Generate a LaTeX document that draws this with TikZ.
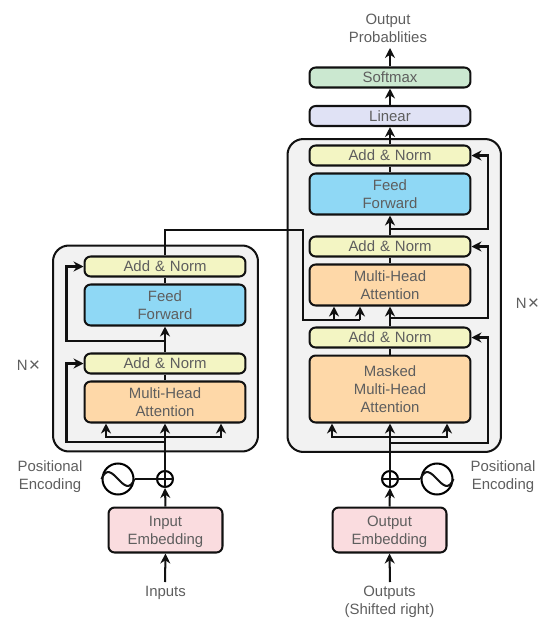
\documentclass[tikz,border=0pt]{standalone}
\usepackage{fontspec}
\setmainfont{Liberation Sans}
\usepackage{xcolor}
\usetikzlibrary{arrows.meta,positioning}
\definecolor{normfill}{HTML}{F3F5C3}
\definecolor{ffill}{HTML}{8FD8F5}
\definecolor{attnfill}{HTML}{FED8A8}
\definecolor{embfill}{HTML}{FADCDF}
\definecolor{linfill}{HTML}{E0E2F5}
\definecolor{softfill}{HTML}{CBE8D0}
\definecolor{stackfill}{HTML}{F2F2F2}
\definecolor{inktext}{HTML}{5E5E5E}
\definecolor{inkline}{HTML}{111111}
\newcommand{\stackcount}{N\kern0.6pt\raisebox{-0.7pt}{\fontsize{11}{11}\selectfont ×}}

\begin{document}
\begin{tikzpicture}[
  x=0.02cm,y=-0.02cm,
  box/.style={draw=inkline,rounded corners=3.5pt,line width=1.15pt,inner sep=0pt,
              text=inktext,align=center,font=\fontsize{8.5}{10.2}\selectfont,text width=3.0cm},
  norm/.style={box,fill=normfill,minimum width=3.22cm,minimum height=0.40cm},
  feed/.style={box,fill=ffill,minimum width=3.22cm,minimum height=0.82cm},
  attn/.style={box,fill=attnfill,minimum width=3.22cm,minimum height=0.82cm},
  embed/.style={box,fill=embfill,text width=2.1cm,minimum width=2.28cm,minimum height=0.90cm,
                execute at begin node={\rule{0pt}{8.4pt}}},
  stack/.style={draw=inkline,fill=stackfill,rounded corners=9pt,line width=1.15pt},
  sumnode/.style={circle,draw=black,fill=white,line width=1.15pt,minimum size=0.32cm,inner sep=0pt},
  wave/.style={circle,draw=black,fill=white,line width=1.15pt,minimum size=0.62cm,inner sep=0pt},
  lbl/.style={text=inktext,align=center,font=\fontsize{8.5}{10.2}\selectfont},
  wire/.style={draw=inkline,line width=1.15pt},
  >={Stealth[length=0.2cm,width=0.2cm]}]

\useasboundingbox (0,0) rectangle (550,629);

% stacks
\node[stack,minimum width=4.1cm,minimum height=4.12cm] (encbg) at (155.5,348.5) {};
\node[stack,minimum width=4.27cm,minimum height=6.26cm] (decbg) at (394.25,295.5) {};

% encoder
\node[norm]  (enorm2) at (165,266.5) {Add \& Norm};
\node[feed]  (eff)    at (165,305)   {Feed\\Forward};
\node[norm]  (enorm1) at (165,363.5) {Add \& Norm};
\node[attn]  (eattn)  at (165,402)   {Multi-Head\\Attention};
\node[embed] (eemb)   at (165.5,530) {Input\\Embedding};
\node[sumnode] (eplus) at (165,479) {};
\node[wave]    (ewave) at (118,479) {};
\node[lbl] (inputs) at (165.5,593) {Inputs};
\node[lbl] (epos)   at (50,477)    {Positional\\Encoding};
\node[lbl] (enx)    at (28.5,366)  {\stackcount};

% decoder
\node[norm]  (dnorm3) at (390,155.5) {Add \& Norm};
\node[feed]  (dff)    at (390,194)   {Feed\\Forward};
\node[norm]  (dnorm2) at (390,246.5) {Add \& Norm};
\node[attn]  (dattn)  at (390,285)   {Multi-Head\\Attention};
\node[norm]  (dnorm1) at (390,337.5) {Add \& Norm};
\node[attn,minimum height=1.34cm] (dmask) at (390,389) {Masked\\Multi-Head\\Attention};
\node[embed] (demb)   at (389.5,530) {Output\\Embedding};
\node[sumnode] (dplus) at (390,479) {};
\node[wave]    (dwave) at (437,479) {};
\node[lbl] (outputs) at (389.5,602) {Outputs\\(Shifted right)};
\node[lbl] (dpos)    at (503,477)   {Positional\\Encoding};
\node[lbl] (dnx)     at (527.5,304) {\stackcount};

% top of decoder
\node[box,fill=linfill,minimum width=3.22cm,minimum height=0.40cm]  (linear)  at (390,116) {Linear};
\node[box,fill=softfill,minimum width=3.22cm,minimum height=0.40cm] (softmax) at (390,77.5) {Softmax};
\node[lbl] (probs) at (388,28) {Output\\Probablities};

% free ends
\coordinate (inS)  at (165,582);
\coordinate (outS) at (390,582);
\coordinate (probE) at (390,48);
\coordinate (eskipA) at (165,442);
\coordinate (eskipB) at (66.5,442);
\coordinate (ebrL) at (106,437);
\coordinate (ebrR) at (221,437);
\coordinate (ebrM) at (165,437);
\coordinate (eskipC) at (165,341);
\coordinate (eskipD) at (66.5,341);
\coordinate (crossA) at (165,230);
\coordinate (crossB) at (303,230);
\coordinate (crossC) at (303,320);
\coordinate (crossL) at (334,320);
\coordinate (crossR) at (360,320);
\coordinate (dskipA) at (390,443);
\coordinate (dskipB) at (488,443);
\coordinate (dbrL) at (332,437);
\coordinate (dbrR) at (447,437);
\coordinate (dbrM) at (390,437);
\coordinate (dskipC) at (390,318);
\coordinate (dskipD) at (488,318);
\coordinate (dskipE) at (390,229);
\coordinate (dskipF) at (488,229);

% encoder wires
\draw[wire,->] (inS) -- (eemb.south);
\draw[wire,->] (eemb.north) -- (eplus.south);
\draw[wire] (ewave.east) -- (eplus.west);
\draw[wire] (eplus.north) -- (eplus.south) (eplus.west) -- (eplus.east);
\draw[wire] (ewave.west) .. controls +(10,-24) and +(-10,24) .. (ewave.east);
\draw[wire,->] (eplus.north) -- (eattn.south);
\draw[wire,->] (ebrM) -- (ebrL) -- (ebrL |- eattn.south);
\draw[wire,->] (ebrM) -- (ebrR) -- (ebrR |- eattn.south);
\draw[wire,->] (eskipA) -- (eskipB) |- (enorm1.west);
\draw[wire] (eattn.north) -- (enorm1.south);
\draw[wire,->] (enorm1.north) -- (eff.south);
\draw[wire,->] (eskipC) -- (eskipD) |- (enorm2.west);
\draw[wire] (eff.north) -- (enorm2.south);
\draw[wire] (enorm2.north) -- (crossA) -- (crossB) -- (crossC) -- (crossR);
\draw[wire,->] (crossL) -- (crossL |- dattn.south);
\draw[wire,->] (crossR) -- (crossR |- dattn.south);

% decoder wires
\draw[wire,->] (outS) -- (demb.south);
\draw[wire,->] (demb.north) -- (dplus.south);
\draw[wire] (dwave.west) -- (dplus.east);
\draw[wire] (dplus.north) -- (dplus.south) (dplus.west) -- (dplus.east);
\draw[wire] (dwave.west) .. controls +(10,-24) and +(-10,24) .. (dwave.east);
\draw[wire,->] (dplus.north) -- (dmask.south);
\draw[wire,->] (dbrM) -- (dbrL) -- (dbrL |- dmask.south);
\draw[wire,->] (dbrM) -- (dbrR) -- (dbrR |- dmask.south);
\draw[wire,->] (dskipA) -- (dskipB) |- (dnorm1.east);
\draw[wire] (dmask.north) -- (dnorm1.south);
\draw[wire,->] (dnorm1.north) -- (dattn.south);
\draw[wire,->] (dskipC) -- (dskipD) |- (dnorm2.east);
\draw[wire] (dattn.north) -- (dnorm2.south);
\draw[wire,->] (dnorm2.north) -- (dff.south);
\draw[wire,->] (dskipE) -- (dskipF) |- (dnorm3.east);
\draw[wire] (dff.north) -- (dnorm3.south);
\draw[wire,->] (dnorm3.north) -- (linear.south);
\draw[wire,->] (linear.north) -- (softmax.south);
\draw[wire,->] (softmax.north) -- (probE);
\end{tikzpicture}
\end{document}
